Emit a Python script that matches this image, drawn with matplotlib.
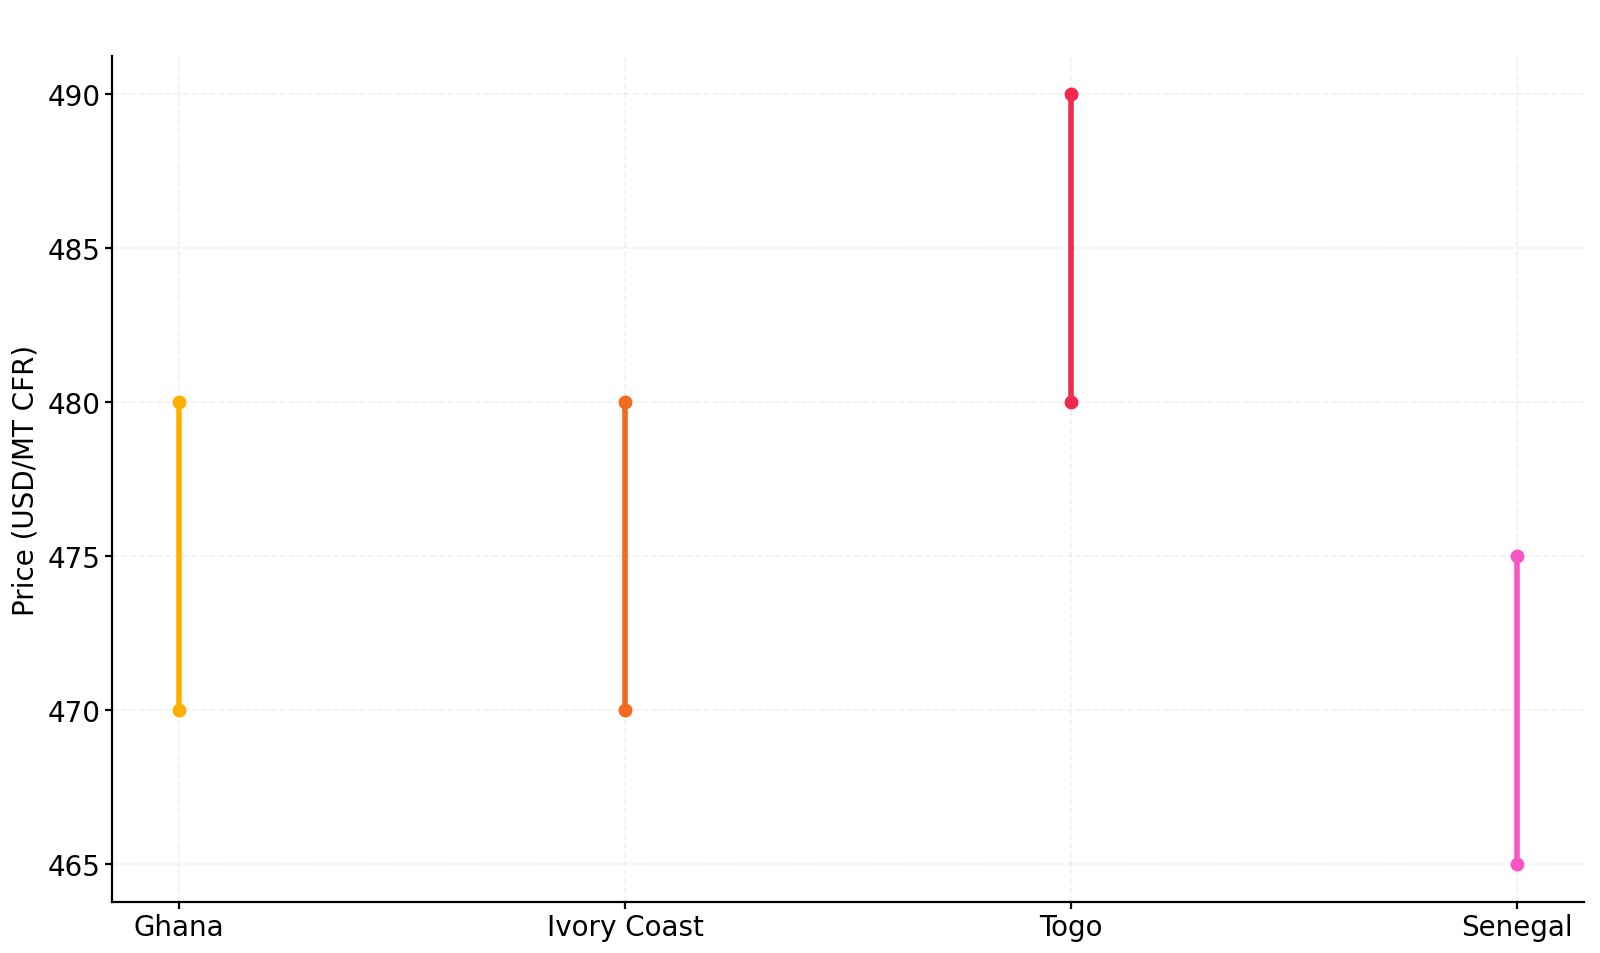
import matplotlib
matplotlib.use('Agg')
import matplotlib.pyplot as plt

# 各国价格区间
countries = ['Ghana', 'Ivory Coast', 'Togo', 'Senegal']
low_prices = [470, 470, 480, 465]
high_prices = [480, 480, 490, 475]
colors = ['#FFAF00', '#F26A1F', '#EF2A4E', '#F955C2']

fig = plt.figure(figsize=(8, 4.77), dpi=200)
ax = fig.add_axes([0.07, 0.0535, 0.92, 0.8868])

for i, (lo, hi) in enumerate(zip(low_prices, high_prices)):
    ax.plot([i, i], [lo, hi], color=colors[i], linewidth=2, marker='o', markersize=4)

ax.set_xticks(range(len(countries)))
ax.set_xticklabels(countries)
ax.set_yticks([465, 470, 475, 480, 485, 490])
ax.set_ylabel('Price (USD/MT CFR)', labelpad=3)

# 网格与边框
ax.grid(True, linestyle='--', color='#dddddd', alpha=0.4, linewidth=0.6)
ax.spines['top'].set_visible(False)
ax.spines['right'].set_visible(False)
ax.tick_params(length=2.5, pad=1.5)

fig.savefig('out.png', dpi=200)
